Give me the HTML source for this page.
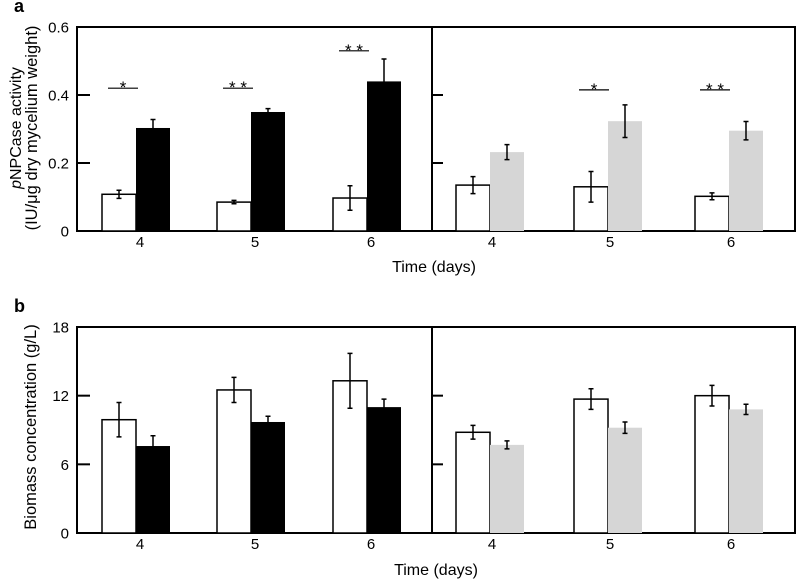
<!DOCTYPE html>
<html><head><meta charset="utf-8"><style>
body{margin:0;background:#fff;}
svg{display:block;font-family:"Liberation Sans",sans-serif;}
</style></head><body>
<svg id="chart" width="797" height="582" viewBox="0 0 797 582" xmlns="http://www.w3.org/2000/svg">
<text x="14" y="12" font-size="18" font-weight="bold">a</text>
<text x="14" y="312" font-size="18" font-weight="bold">b</text>
<text transform="translate(21,128) rotate(-90)" text-anchor="middle" font-size="16"><tspan font-style="italic">p</tspan>NPCase activity</text>
<text transform="translate(37,128) rotate(-90)" text-anchor="middle" font-size="16.5">(IU/μg dry mycelium weight)</text>
<text transform="translate(36,427) rotate(-90)" text-anchor="middle" font-size="16.5">Biomass concentration (g/L)</text>
<text x="434" y="272" text-anchor="middle" font-size="16">Time (days)</text>
<text x="436" y="575" text-anchor="middle" font-size="16">Time (days)</text>
<g id="plots"></g>
</svg>
<script>
const categories = ["4","5","6"];
const aTicks = [0, 0.2, 0.4, 0.6];
const aTickLabels = ["0","0.2","0.4","0.6"];
const bTicks = [0, 6, 12, 18];
const bTickLabels = ["0","6","12","18"];
const aLeftWhite = [0.108, 0.085, 0.097];
const aLeftWhiteErr = [0.012, 0.005, 0.036];
const aLeftBlack = [0.303, 0.350, 0.440];
const aLeftBlackErr = [0.025, 0.010, 0.066];
const aRightWhite = [0.135, 0.130, 0.102];
const aRightWhiteErr = [0.025, 0.045, 0.010];
const aRightGrey = [0.232, 0.323, 0.295];
const aRightGreyErr = [0.022, 0.048, 0.027];
const aLeftSig = ["*", "* *", "* *"];
const aLeftSigLevel = [0.42, 0.42, 0.53];
const aRightSig = ["", "*", "* *"];
const aRightSigLevel = [0, 0.415, 0.415];
const bLeftWhite = [9.9, 12.5, 13.3];
const bLeftWhiteErr = [1.5, 1.1, 2.4];
const bLeftBlack = [7.6, 9.7, 11.0];
const bLeftBlackErr = [0.9, 0.5, 0.7];
const bRightWhite = [8.8, 11.7, 12.0];
const bRightWhiteErr = [0.6, 0.9, 0.9];
const bRightGrey = [7.7, 9.2, 10.8];
const bRightGreyErr = [0.35, 0.5, 0.45];

const NS = "http://www.w3.org/2000/svg";
const root = document.getElementById("plots");
function el(tag, attrs, parent){const e=document.createElementNS(NS,tag);for(const k in attrs)e.setAttribute(k,attrs[k]);(parent||root).appendChild(e);return e;}

const leftCenters = [138, 253, 369];
const rightCenters = [490, 608, 729];
const BW = 34;

function panel(p){
  const y = v => p.y0 - (v - p.vmin)/(p.vmax - p.vmin)*(p.y0 - p.y1);
  const g = el("g",{});
  
  
  const fr = el("path",{d:`M77 ${p.y1} L77 ${p.y0} L795 ${p.y0} L795 ${p.y1} Z M432 ${p.y1} L432 ${p.y0}`,fill:"none",stroke:"#000","stroke-width":2},g);
  
  
  p.ticks.forEach((t,i)=>{
    const ty=y(t);
    if(t!==p.vmin && t!==p.vmax){
      const tk=el("line",{x1:77,x2:90,y1:ty,y2:ty,stroke:"#000","stroke-width":2},g);
      
      
      const tk2=el("line",{x1:432,x2:443,y1:ty,y2:ty,stroke:"#000","stroke-width":2},g);
      
      
    }
    const tl=el("text",{x:69,y:ty+5.5,"text-anchor":"end","font-size":15},g);
    tl.textContent=p.tickLabels[i];
    
    
  });
  [leftCenters,rightCenters].forEach(cs=>cs.forEach((c,i)=>{
    const xl=el("text",{x:c+2,y:p.y0+16,"text-anchor":"middle","font-size":15},g);
    xl.textContent=categories[i];
    
    
  }));
  function bars(cs, vals, errs, color, off, nm){
    cs.forEach((c,i)=>{
      const x=c+off, top=y(vals[i]);
      const r=el("rect",{x:x,y:top,width:BW,height:p.y0-top,fill:color,stroke:color==="#fff"?"#000":color,"stroke-width":color==="#fff"?1.5:0},g);
      
      
      const cx=x+BW/2, e1=y(vals[i]+errs[i]), e2=y(vals[i]-errs[i]);
      const eb=el("path",{d:`M${cx} ${e1}V${e2}M${cx-2.5} ${e1}H${cx+2.5}M${cx-2.5} ${e2}H${cx+2.5}`,stroke:"#000","stroke-width":1.5,fill:"none"},g);
      
      
    });
  }
  bars(leftCenters,p.lw,p.lwe,"#fff",-36,"bar-control-left");
  bars(leftCenters,p.lb,p.lbe,"#000",-2,"bar-treatment-black");
  bars(rightCenters,p.rw,p.rwe,"#fff",-34,"bar-control-right");
  bars(rightCenters,p.rg,p.rge,"#d6d6d6",0,"bar-treatment-grey");
  if(p.sig){
    [[leftCenters,p.sig.l,p.sig.ll,-17],[rightCenters,p.sig.r,p.sig.rl,-16]].forEach(([cs,s,lv,off])=>cs.forEach((c,i)=>{
      if(!s[i])return;
      const ly=y(lv[i]), x1=c+off-15+2, x2=c+off+15+2;
      const sl=el("line",{x1:x1,x2:x2,y1:ly,y2:ly,stroke:"#000","stroke-width":1.2},g);
      
      
      const st=el("text",{x:(x1+x2)/2,y:ly+5,"text-anchor":"middle","font-size":17},g);
      st.textContent=s[i];
      
      
    }));
  }
}
panel({name:"panel-a",y0:231,y1:27,vmin:0,vmax:0.6,ticks:aTicks,tickLabels:aTickLabels,
  lw:aLeftWhite,lwe:aLeftWhiteErr,lb:aLeftBlack,lbe:aLeftBlackErr,rw:aRightWhite,rwe:aRightWhiteErr,rg:aRightGrey,rge:aRightGreyErr,
  sig:{l:aLeftSig,ll:aLeftSigLevel,r:aRightSig,rl:aRightSigLevel}});
panel({name:"panel-b",y0:533,y1:327,vmin:0,vmax:18,ticks:bTicks,tickLabels:bTickLabels,
  lw:bLeftWhite,lwe:bLeftWhiteErr,lb:bLeftBlack,lbe:bLeftBlackErr,rw:bRightWhite,rwe:bRightWhiteErr,rg:bRightGrey,rge:bRightGreyErr});
</script>
</body></html>
